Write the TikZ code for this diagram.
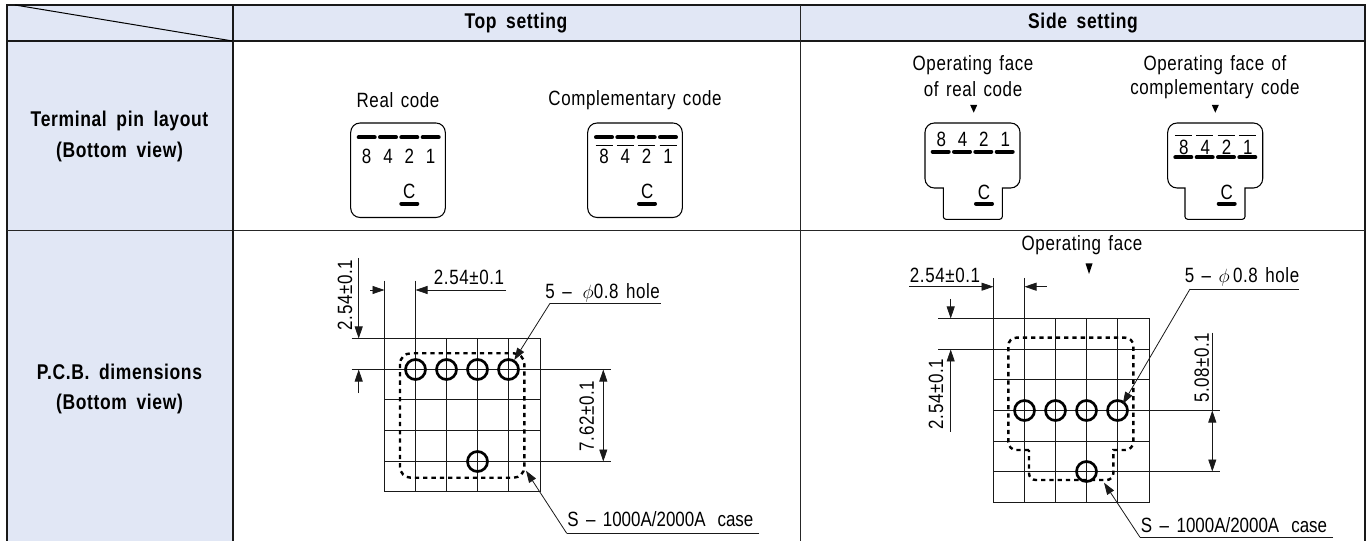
\documentclass[tikz,border=0pt]{standalone}
\usepackage{fontspec}
\setmainfont[FakeStretch=0.82,LetterSpace=3]{Liberation Sans}
\usetikzlibrary{arrows.meta}
\definecolor{headfill}{HTML}{E1E7F5}
\newcommand\lblfont{\fontsize{15.5pt}{18pt}\selectfont\spaceskip 0.36em\relax}
\newcommand\hdrfont{\fontsize{16pt}{23pt}\selectfont\bfseries\spaceskip 0.45em\relax}
\newcommand\casetext{\addfontfeature{LetterSpace=0}S -- 1000A/2000A\hspace{9pt}case}
\tikzset{
  px/.style={x=0.75pt,y=-0.75pt},
  frame/.style={line width=1.5pt,black!90},
  rowrule/.style={line width=1pt,black!85},
  thin line/.style={line width=0.6pt,black!90},
  grid line/.style={line width=0.8pt,black!90},
  outline/.style={line width=0.8pt,black,rounded corners=7pt},
  pin/.style={line width=3pt,line cap=round,black},
  bar/.style={line width=0.6pt,black},
  hole/.style={circle,draw=black,line width=2pt,minimum size=15pt,inner sep=0pt,fill=none},
  case/.style={line width=1.8pt,dash pattern=on 3.2pt off 3pt,black},
  dimtip/.style={-{Triangle[length=9pt,width=6pt]},line width=0.6pt,black!90},
  dimboth/.style={{Triangle[length=9pt,width=6pt]}-{Triangle[length=9pt,width=6pt]},line width=0.6pt,black!90},
  lbl/.style={font=\lblfont,inner sep=0pt,align=center},
  num/.style={font=\fontsize{15.5pt}{18pt}\selectfont,inner sep=0pt},
  hdr/.style={font=\hdrfont,inner sep=0pt,align=center},
  tri/.style={fill=black,draw=none}
}
\begin{document}
\begin{tikzpicture}[px]
\useasboundingbox (0,0) rectangle (1370,541);
% table
\fill[headfill] (7,5) rectangle (1365,41);
\fill[headfill] (7,41) rectangle (232.5,541);
\draw[frame] (7,541) -- (7,5) -- (1365,5) -- (1365,541);
\draw[frame] (7,41) -- (1365,41);
\draw[rowrule] (7,230.5) -- (1365,230.5);
\draw[frame] (232.5,5) -- (232.5,541);
\draw[rowrule] (800.5,5) -- (800.5,541);
\draw[line width=0.75pt] (15,5) -- (232.5,41);
\node[hdr] (top) at (516,23) {Top setting};
\node[hdr] (side) at (1083,23) {Side setting};
\node[hdr] (tp) at (119.5,136.7) {Terminal pin layout\\(Bottom view)};
\node[hdr] (pcb) at (119.5,389) {P.C.B. dimensions\\(Bottom view)};
% real code
\node[lbl] (rc) at (398,100) {Real code};
\node[lbl] (cc) at (635,100) {Complementary code};
\draw[outline] (350.7,123) rectangle (445.3,217.5);
\draw[outline] (587.7,123) rectangle (682.3,217.5);
\foreach \x/\t in {366.7/8,388/4,409.3/2,430.7/1}{
  \draw[pin] (\x-8,137.3) -- (\x+8,137.3);
  \node[num] at (\x,156) {\t};
}
\node[num] (c1) at (409.3,191.5) {C};
\draw[pin] (401.3,203.7) -- (417.3,203.7);
\foreach \x/\t in {604/8,625.3/4,646.7/2,668/1}{
  \draw[pin] (\x-8,137.3) -- (\x+8,137.3);
  \draw[bar] (\x-8.5,145.3) -- (\x+8.5,145.3);
  \node[num] at (\x,156) {\t};
}
\node[num] (c2) at (647.3,191.5) {C};
\draw[pin] (639,203.7) -- (655,203.7);
% side outlines
\node[lbl] (of1) at (973,65) {Operating face};
\node[lbl] (of2) at (973,89) {of real code};
\node[lbl] (of3) at (1215,65) {Operating face of};
\node[lbl] (of4) at (1215,89) {complementary code};
\fill[tri] (970.2,105) -- (977.2,105) -- (973.7,112.7) -- cycle;
\fill[tri] (1211.8,105) -- (1218.8,105) -- (1215.3,112.7) -- cycle;
\draw[line width=0.8pt,black,rounded corners=7pt] (972,123) -- (1020,123) -- (1020,188) [rounded corners=0pt] -- (1002.3,188) [rounded corners=2pt] -- (1002.3,219.3) -- (943.3,219.3) [rounded corners=0pt] -- (943.3,188) [rounded corners=7pt] -- (925,188) -- (925,123) -- cycle;
\draw[line width=0.8pt,black,rounded corners=7pt] (1215,123) -- (1262.7,123) -- (1262.7,188) [rounded corners=0pt] -- (1245,188) [rounded corners=2pt] -- (1245,219.3) -- (1185,219.3) [rounded corners=0pt] -- (1185,188) [rounded corners=7pt] -- (1167.7,188) -- (1167.7,123) -- cycle;
\foreach \x/\t in {940.7/8,962/4,983.3/2,1004.7/1}{
  \draw[pin] (\x-8,151.7) -- (\x+8,151.7);
  \node[num] at (\x+0.5,139.3) {\t};
}
\node[num] (c3) at (984,192.5) {C};
\draw[pin] (976,203.7) -- (992,203.7);
\foreach \x/\t in {1183.3/8,1204.7/4,1226/2,1247.3/1}{
  \draw[pin] (\x-8,157.3) -- (\x+8,157.3);
  \draw[bar] (\x-8.5,135.7) -- (\x+8.5,135.7);
  \node[num] at (\x+0.5,147.5) {\t};
}
\node[num] (c4) at (1226.7,192.5) {C};
\draw[pin] (1218.7,203.7) -- (1234.7,203.7);
% PCB left grid
\foreach \x in {384.5,415.5,446.5,477.5,508.5,540.5} \draw[grid line] (\x,338.5) -- (\x,491.5);
\foreach \y in {338.5,369.5,399.5,430.5,461.5,491.5} \draw[grid line] (384.5,\y) -- (540.5,\y);
\draw[case,rounded corners=8pt] (400,353.3) rectangle (524.3,477.7);
\node[hole] (la) at (415.5,369.5) {};
\node[hole] (lb) at (446.5,369.5) {};
\node[hole] (lc) at (477.5,369.5) {};
\node[hole] (ld) at (508.5,369.5) {};
\node[hole] (le) at (477.5,461.5) {};
% left extension lines
\draw[thin line] (384.5,280.7) -- (384.5,338.5);
\draw[thin line] (415.5,280.7) -- (415.5,338.5);
\draw[thin line] (351.7,338.5) -- (384.5,338.5);
\draw[thin line] (351.7,369.5) -- (384.5,369.5);
\draw[thin line] (540.5,369.5) -- (611,369.5);
\draw[thin line] (540.5,461.5) -- (611,461.5);
% left dims
\coordinate (d1a) at (370,290); \coordinate (d1b) at (384.5,290);
\coordinate (d1c) at (506,290); \coordinate (d1d) at (415.5,290);
\draw[dimtip] (d1a) -- (d1b);
\draw[dimtip] (d1c) -- (d1d);
\node[lbl] (t1) at (469,277) {2.54±0.1};
\coordinate (d2a) at (358.7,258); \coordinate (d2b) at (358.7,338.5);
\coordinate (d2c) at (358.7,393); \coordinate (d2d) at (358.7,369.5);
\draw[dimtip] (d2a) -- (d2b);
\draw[dimtip] (d2c) -- (d2d);
\node[lbl,rotate=90] (t2) at (345,295) {2.54±0.1};
\coordinate (d3a) at (603.3,369.5); \coordinate (d3b) at (603.3,461.5);
\draw[dimboth] (d3a) -- (d3b);
\node[lbl,rotate=90] (t3) at (586.7,416) {7.62±0.1};
% left leaders
\node[lbl] (h1) at (602.7,292.7) {5 -- \,$\phi$0.8 hole};
\coordinate (h1a) at (660.7,303.3); \coordinate (h1b) at (550,303.3); \coordinate (h1c) at (514.3,360);
\draw[thin line] (h1a) -- (h1b);
\draw[dimtip] (h1b) -- (h1c);
\node[lbl,anchor=west] (s1) at (567,519) {\casetext};
\coordinate (s1a) at (759.3,533.3); \coordinate (s1b) at (566.7,533.3); \coordinate (s1c) at (526,470.7);
\draw[thin line] (s1a) -- (s1b);
\draw[dimtip] (s1b) -- (s1c);
% PCB right grid
\foreach \x in {993.5,1024.5,1055.5,1086.5,1117.5,1149.5} \draw[grid line] (\x,318.5) -- (\x,502.5);
\foreach \y in {318.5,349.5,379.5,410.5,441.5,471.5,502.5} \draw[grid line] (993.5,\y) -- (1149.5,\y);
\draw[case,rounded corners=6pt] (1029,450) -- (1008.3,450) -- (1008.3,337.7) -- (1133.3,337.7) -- (1133.3,450) [rounded corners=0pt] -- (1113.3,450) [rounded corners=5pt] -- (1113.3,480) -- (1029,480) -- (1029,450);
\node[hole] (ra) at (1024.5,410.5) {};
\node[hole] (rb) at (1055.5,410.5) {};
\node[hole] (rc2) at (1086.5,410.5) {};
\node[hole] (rd) at (1117.5,410.5) {};
\node[hole] (re) at (1086.5,471.5) {};
\draw[thin line] (993.5,278) -- (993.5,318.5);
\draw[thin line] (1024.5,278) -- (1024.5,318.5);
\draw[thin line] (938.3,318.5) -- (993.5,318.5);
\draw[thin line] (938.3,349.5) -- (993.5,349.5);
\draw[thin line] (1149.5,410.5) -- (1220,410.5);
\draw[thin line] (1149.5,471.5) -- (1220,471.5);
\coordinate (r1a) at (909,286.7); \coordinate (r1b) at (993.5,286.7);
\coordinate (r1c) at (1046.7,286.7); \coordinate (r1d) at (1024.5,286.7);
\draw[dimtip] (r1a) -- (r1b);
\draw[dimtip] (r1c) -- (r1d);
\node[lbl] (t4) at (945,275) {2.54±0.1};
\coordinate (r2a) at (950.7,299); \coordinate (r2b) at (950.7,318.5);
\coordinate (r2c) at (950.7,431.7); \coordinate (r2d) at (950.7,349.5);
\draw[dimtip] (r2a) -- (r2b);
\draw[dimtip] (r2c) -- (r2d);
\node[lbl,rotate=90] (t5) at (936,394) {2.54±0.1};
\coordinate (r3a) at (1212.3,332.7); \coordinate (r3b) at (1212.3,410.5); \coordinate (r3c) at (1212.3,471.5);
\draw[thin line] (r3a) -- (r3b);
\draw[dimboth] (r3b) -- (r3c);
\node[lbl,rotate=90] (t6) at (1201.7,367.7) {5.08±0.1};
\node[lbl] (of5) at (1082,245) {Operating face};
\fill[tri] (1085.5,263.5) -- (1092.5,263.5) -- (1089,274) -- cycle;
\node[lbl] (h2) at (1242,277) {5 -- $\phi$\,0.8 hole};
\coordinate (h2a) at (1299,289); \coordinate (h2b) at (1190,289); \coordinate (h2c) at (1122.7,404);
\draw[thin line] (h2a) -- (h2b);
\draw[dimtip] (h2b) -- (h2c);
\node[lbl,anchor=west] (s2) at (1140.7,525) {\casetext};
\coordinate (s2a) at (1333,537.3); \coordinate (s2b) at (1140,537.3); \coordinate (s2c) at (1104,482.7);
\draw[thin line] (s2a) -- (s2b);
\draw[dimtip] (s2b) -- (s2c);
\end{tikzpicture}
\end{document}
